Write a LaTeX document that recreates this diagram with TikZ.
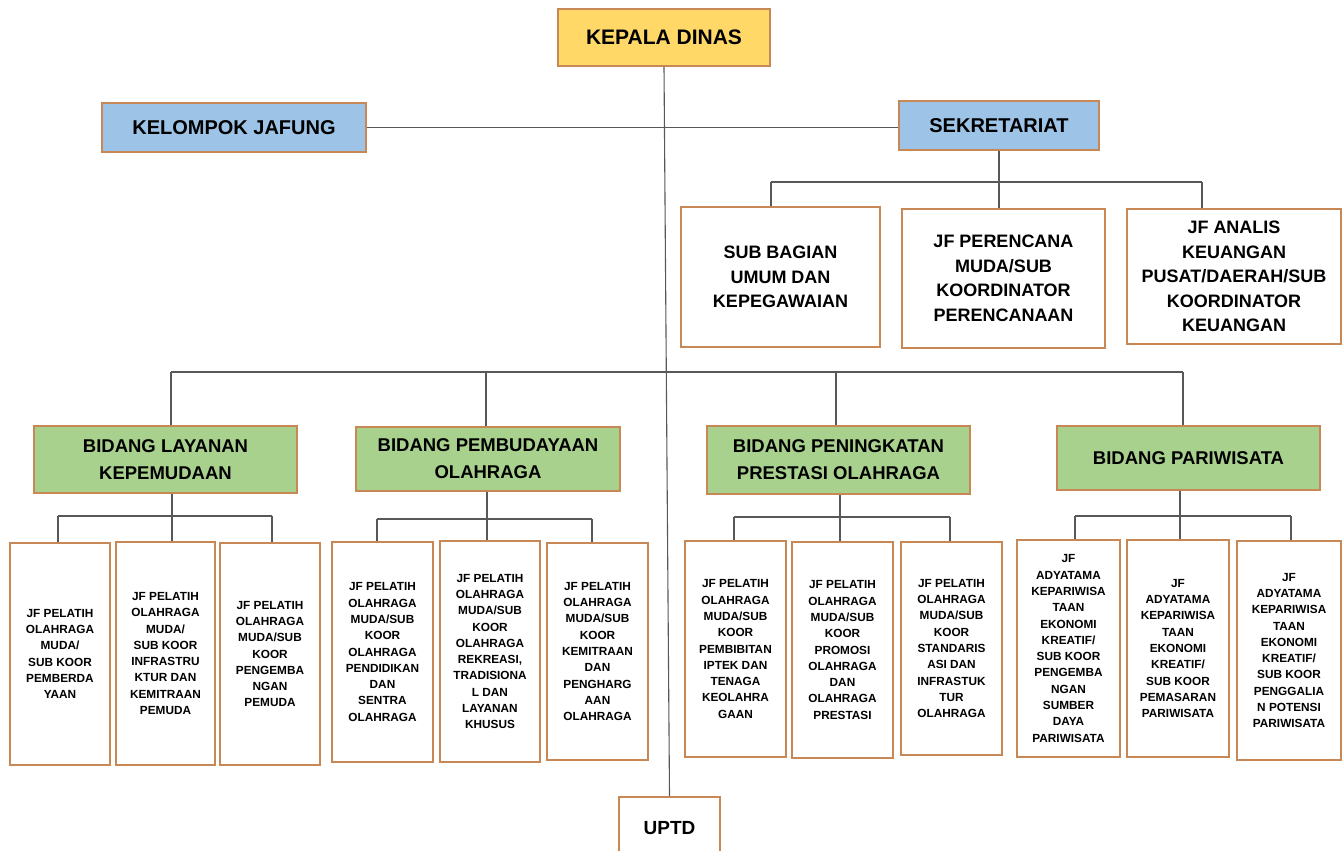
\documentclass[tikz,border=0pt]{standalone}
\usepackage{fontspec}
\setmainfont{Liberation Sans}
\definecolor{bord}{RGB}{200,136,86}
\definecolor{gold}{RGB}{255,216,104}
\definecolor{skyb}{RGB}{157,195,230}
\definecolor{leaf}{RGB}{169,209,142}
\definecolor{wire}{RGB}{88,88,88}
\tikzset{
  boxbase/.style={draw=bord, line width=1.8pt, inner sep=0pt, align=center, text=black},
  headbox/.style={boxbase, fill=gold, font=\fontsize{21}{25}\selectfont\bfseries},
  bluebox/.style={boxbase, fill=skyb, font=\fontsize{20}{24}\selectfont\bfseries},
  secbox/.style={boxbase, fill=white, font=\fontsize{18}{24.5}\selectfont\bfseries},
  greenbox/.style={boxbase, fill=leaf, font=\fontsize{18.5}{27}\selectfont\bfseries},
  leafbox/.style={boxbase, fill=white, line width=2pt, font=\fontsize{11.8}{16.3}\selectfont\bfseries},
  uptdbox/.style={boxbase, fill=white, font=\fontsize{19}{23}\selectfont\bfseries},
  vline/.style={draw=wire, line width=1.1pt},
  hbar/.style={draw=wire, line width=1.8pt},
}
\newcommand{\bx}[7]{\node[#1, minimum width=#4pt, minimum height=#5pt] (#2) at (#3) {#6};}
\begin{document}
\begin{tikzpicture}[x=1pt,y=-1pt]
\useasboundingbox[fill=white] (0,0) rectangle (1342,851);

% top level
\node[headbox, minimum width=212pt, minimum height=57pt] (KD) at (664,37.5) {KEPALA DINAS};
\node[bluebox, minimum width=264pt, minimum height=49pt] (KJ) at (234,127.5) {KELOMPOK JAFUNG};
\node[bluebox, minimum width=200pt, minimum height=49pt] (SK) at (999,125.5) {SEKRETARIAT};
\node[uptdbox, minimum width=101pt, minimum height=62pt] (UP) at (669.5,828) {UPTD};

% secretariat children
\node[secbox, minimum width=199pt, minimum height=140pt] (S1) at (780.5,277) {SUB BAGIAN\\UMUM DAN\\KEPEGAWAIAN};
\node[secbox, minimum width=203pt, minimum height=139pt] (S2) at (1003.5,278.5) {JF PERENCANA\\MUDA/SUB\\KOORDINATOR\\PERENCANAAN};
\node[secbox, minimum width=214pt, minimum height=135pt] (S3) at (1234,276.5) {JF ANALIS\\KEUANGAN\\PUSAT/DAERAH/SUB\\KOORDINATOR\\KEUANGAN};

% bidang
\node[greenbox, minimum width=263pt, minimum height=67pt] (B1) at (165.5,459.5) {BIDANG LAYANAN\\KEPEMUDAAN};
\node[greenbox, minimum width=264pt, minimum height=64pt] (B2) at (488,459) {BIDANG PEMBUDAYAAN\\OLAHRAGA};
\node[greenbox, minimum width=263pt, minimum height=68pt] (B3) at (838.5,460) {BIDANG PENINGKATAN\\PRESTASI OLAHRAGA};
\node[greenbox, minimum width=263pt, minimum height=64pt] (B4) at (1188.5,458) {BIDANG PARIWISATA};

% leaves
\node[leafbox, minimum width=100pt, minimum height=222pt] (L1) at (60,654) {JF PELATIH\\OLAHRAGA\\MUDA/\\SUB KOOR\\PEMBERDA\\YAAN};
\node[leafbox, minimum width=99pt, minimum height=223pt] (L2) at (165.5,653.5) {JF PELATIH\\OLAHRAGA\\MUDA/\\SUB KOOR\\INFRASTRU\\KTUR DAN\\KEMITRAAN\\PEMUDA};
\node[leafbox, minimum width=100pt, minimum height=222pt] (L3) at (270,654) {JF PELATIH\\OLAHRAGA\\MUDA/SUB\\KOOR\\PENGEMBA\\NGAN\\PEMUDA};
\node[leafbox, minimum width=101pt, minimum height=220pt] (L4) at (382.5,652) {JF PELATIH\\OLAHRAGA\\MUDA/SUB\\KOOR\\OLAHRAGA\\PENDIDIKAN\\DAN\\SENTRA\\OLAHRAGA};
\node[leafbox, minimum width=100pt, minimum height=221pt] (L5) at (490,651.5) {JF PELATIH\\OLAHRAGA\\MUDA/SUB\\KOOR\\OLAHRAGA\\REKREASI,\\TRADISIONA\\L DAN\\LAYANAN\\KHUSUS};
\node[leafbox, minimum width=101pt, minimum height=217pt] (L6) at (597.5,651.5) {JF PELATIH\\OLAHRAGA\\MUDA/SUB\\KOOR\\KEMITRAAN\\DAN\\PENGHARG\\AAN\\OLAHRAGA};
\node[leafbox, minimum width=101pt, minimum height=216pt] (L7) at (735.5,649) {JF PELATIH\\OLAHRAGA\\MUDA/SUB\\KOOR\\PEMBIBITAN\\IPTEK DAN\\TENAGA\\KEOLAHRA\\GAAN};
\node[leafbox, minimum width=101pt, minimum height=216pt] (L8) at (842.5,650) {JF PELATIH\\OLAHRAGA\\MUDA/SUB\\KOOR\\PROMOSI\\OLAHRAGA\\DAN\\OLAHRAGA\\PRESTASI};
\node[leafbox, minimum width=101pt, minimum height=213pt] (L9) at (951.5,648.5) {JF PELATIH\\OLAHRAGA\\MUDA/SUB\\KOOR\\STANDARIS\\ASI DAN\\INFRASTUK\\TUR\\OLAHRAGA};
\node[leafbox, minimum width=103pt, minimum height=217pt] (L10) at (1068.5,648.5) {JF\\ADYATAMA\\KEPARIWISA\\TAAN\\EKONOMI\\KREATIF/\\SUB KOOR\\PENGEMBA\\NGAN\\SUMBER\\DAYA\\PARIWISATA};
\node[leafbox, minimum width=102pt, minimum height=217pt] (L11) at (1178,648.5) {JF\\ADYATAMA\\KEPARIWISA\\TAAN\\EKONOMI\\KREATIF/\\SUB KOOR\\PEMASARAN\\PARIWISATA};
\node[leafbox, minimum width=104pt, minimum height=219pt] (L12) at (1289,650.5) {JF\\ADYATAMA\\KEPARIWISA\\TAAN\\EKONOMI\\KREATIF/\\SUB KOOR\\PENGGALIA\\N POTENSI\\PARIWISATA};

% bar coordinates
\coordinate (m1) at (171,372);
\coordinate (m2) at (486,372);
\coordinate (m3) at (836,372);
\coordinate (m4) at (1183,372);
\coordinate (s1) at (771,182);
\coordinate (s2) at (999,182);
\coordinate (s3) at (1202,182);
\coordinate (a1) at (58,516);
\coordinate (a2) at (172,516);
\coordinate (a3) at (272,516);
\coordinate (b1) at (377,519);
\coordinate (b2) at (487,519);
\coordinate (b3) at (592,519);
\coordinate (c1) at (734,517);
\coordinate (c2) at (840,517);
\coordinate (c3) at (950,517);
\coordinate (d1) at (1075,516);
\coordinate (d2) at (1180,516);
\coordinate (d3) at (1291,516);

% connectors
\draw[vline] (KD.south) -- (UP.north);
\draw[hbar] (KJ.east) -- (KJ.east -| SK.west);

\draw[vline] (SK.south) -- (s2);
\draw[hbar] (s1) -- (s3);
\draw[vline] (s1) -- (s1 |- S1.north);
\draw[vline] (s2) -- (s2 |- S2.north);
\draw[vline] (s3) -- (s3 |- S3.north);

\draw[hbar] (m1) -- (m4);
\draw[vline] (m1) -- (m1 |- B1.north);
\draw[vline] (m2) -- (m2 |- B2.north);
\draw[vline] (m3) -- (m3 |- B3.north);
\draw[vline] (m4) -- (m4 |- B4.north);

\draw[vline] (a2 |- B1.south) -- (a2);
\draw[hbar] (a1) -- (a3);
\draw[vline] (a1) -- (a1 |- L1.north);
\draw[vline] (a2) -- (a2 |- L2.north);
\draw[vline] (a3) -- (a3 |- L3.north);

\draw[vline] (b2 |- B2.south) -- (b2);
\draw[hbar] (b1) -- (b3);
\draw[vline] (b1) -- (b1 |- L4.north);
\draw[vline] (b2) -- (b2 |- L5.north);
\draw[vline] (b3) -- (b3 |- L6.north);

\draw[vline] (c2 |- B3.south) -- (c2);
\draw[hbar] (c1) -- (c3);
\draw[vline] (c1) -- (c1 |- L7.north);
\draw[vline] (c2) -- (c2 |- L8.north);
\draw[vline] (c3) -- (c3 |- L9.north);

\draw[vline] (d2 |- B4.south) -- (d2);
\draw[hbar] (d1) -- (d3);
\draw[vline] (d1) -- (d1 |- L10.north);
\draw[vline] (d2) -- (d2 |- L11.north);
\draw[vline] (d3) -- (d3 |- L12.north);
\end{tikzpicture}
\end{document}
